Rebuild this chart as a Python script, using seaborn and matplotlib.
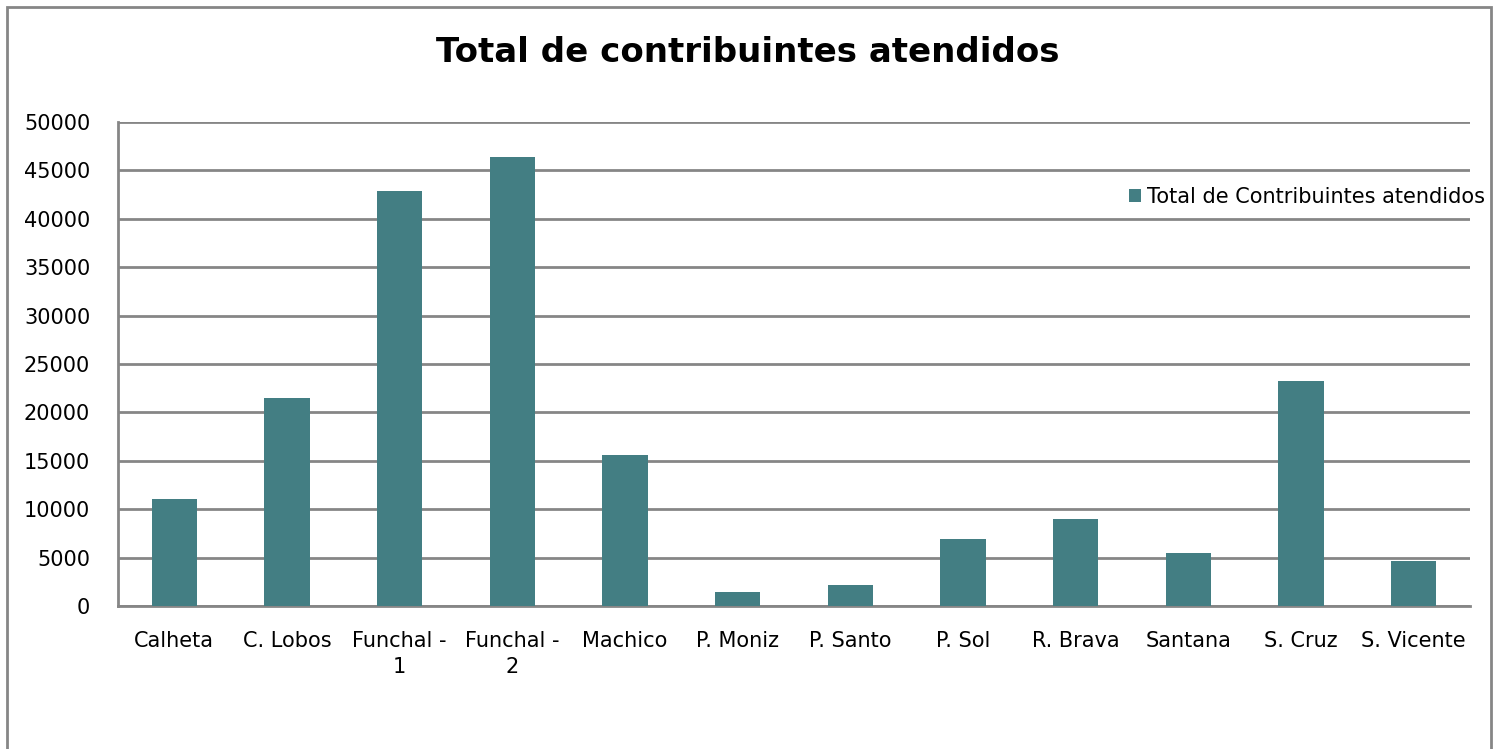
import pandas as pd
import matplotlib.pyplot as plt
import seaborn as sns
from matplotlib.patches import Rectangle

# values
servicos = ['Calheta', 'C. Lobos', 'Funchal -\n1', 'Funchal -\n2', 'Machico', 'P. Moniz',
            'P. Santo', 'P. Sol', 'R. Brava', 'Santana', 'S. Cruz', 'S. Vicente']
atendidos = [11050, 21450, 42900, 46350, 15570, 1490, 2130, 6880, 8940, 5500, 23200, 4650]

data = pd.DataFrame({'Servico': servicos, 'Total': atendidos})

sns.set_style('white')
plt.rcParams['font.family'] = ['DejaVu Sans']
plt.rcParams['text.color'] = 'black'
grey = '#868686'
cor = '#437E83'
fs = 15

fig = plt.figure(figsize=(14.99, 7.49), dpi=100)
ax = fig.add_axes([118 / 1499, 1 - 606 / 749, (1470 - 118) / 1499, (606 - 122) / 749])

sns.barplot(data=data, x='Servico', y='Total', color=cor, width=0.4, saturation=1,
            linewidth=0, label='Total de Contribuintes atendidos', ax=ax, zorder=3)

ax.set_ylim(0, 50000)
ax.set_xlim(-0.5, len(servicos) - 0.5)
ax.set_yticks(range(0, 50001, 5000))
ax.yaxis.grid(True, color=grey, linewidth=2)
ax.set_axisbelow(True)
ax.set_xlabel('')
ax.set_ylabel('')

# excel style ticks between categories
ax.set_xticks([i for i in range(len(servicos))])
ax.set_xticklabels(servicos, fontsize=fs, color='black', linespacing=1.35)
ax.set_xticks([i - 0.5 for i in range(len(servicos) + 1)], minor=True)
ax.tick_params(axis='x', which='major', length=0, pad=18)
ax.tick_params(axis='x', which='minor', length=6, width=2, color=grey, direction='out')
ax.tick_params(axis='y', length=6, width=2, color=grey, direction='out', labelsize=fs, pad=14)
for lbl in ax.get_yticklabels():
    lbl.set_color('black')

for s in ['top', 'right']:
    ax.spines[s].set_visible(False)
for s in ['left', 'bottom']:
    ax.spines[s].set_color(grey)
    ax.spines[s].set_linewidth(2)

leg = ax.legend(loc='center right', bbox_to_anchor=(1.017, 0.845), frameon=False,
                fontsize=fs, handlelength=0.6, handleheight=0.6, handletextpad=0.25,
                borderaxespad=0)

fig.text(0.499, 1 - 53 / 749, 'Total de contribuintes atendidos', ha='center', va='center',
         fontsize=24.5, fontweight='bold', color='black')

# chart frame
fig.patches.append(Rectangle((7 / 1499, -0.02), (1491 - 7) / 1499, 1.02 - 7 / 749,
                             transform=fig.transFigure, fill=False, edgecolor=grey,
                             linewidth=2))

fig.savefig('out.png', dpi=100)
